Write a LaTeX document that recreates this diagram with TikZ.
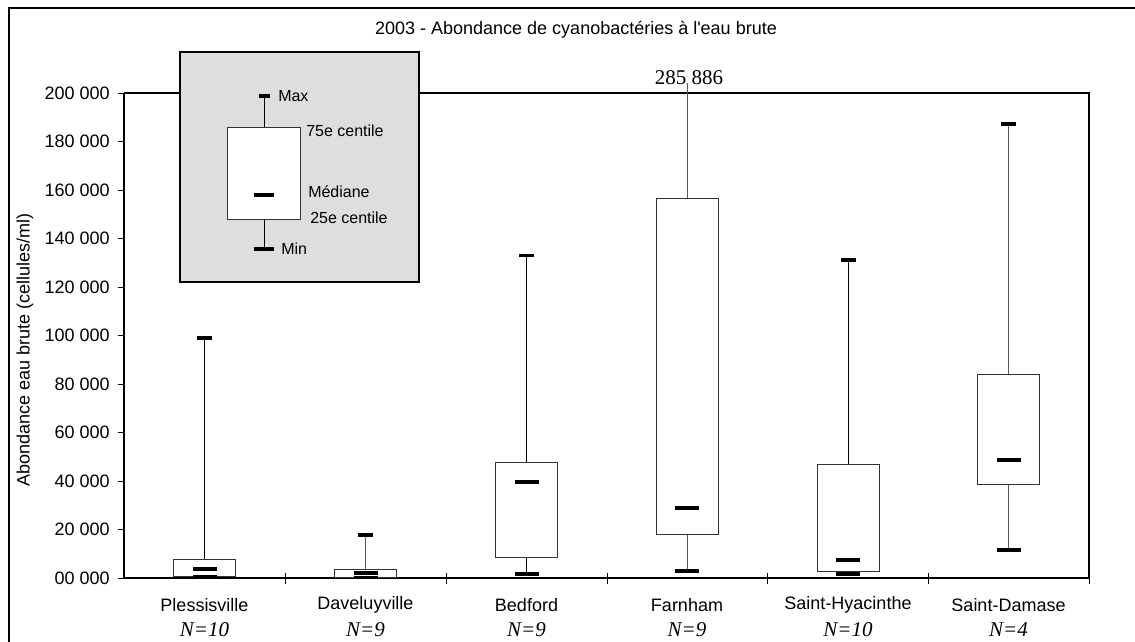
\documentclass[tikz,border=0pt]{standalone}
\usepackage{fontspec}
\setmainfont{Liberation Sans}
\newfontfamily\tnr{Liberation Serif}
\begin{document}
\begin{tikzpicture}[x=0.75pt,y=-0.75pt,
  frame/.style={draw=black,line width=1.5pt},
  axis/.style={draw=black,line width=1.4pt},
  plotedge/.style={draw=black,line width=1.1pt},
  tck/.style={draw=black,line width=0.6pt},
  boxs/.style={draw=black!80,line width=0.75pt},
  whisk/.style={line width=0.7pt},
  barmark/.style={draw=black,line width=2.6pt},
  lbl/.style={font=\fontsize{13.5}{16}\selectfont,inner sep=0pt},
  leglbl/.style={font=\fontsize{12}{14}\selectfont,inner sep=0pt,anchor=west},
  nlbl/.style={font=\tnr\itshape\fontsize{15.75}{18}\selectfont,inner sep=0pt}]
\useasboundingbox (0,0) rectangle (1135,642);
\begin{scope}
\clip (0,0) rectangle (1135,642);
\draw[frame] (8.5,8.5) rectangle (1150,660);
\end{scope}
% title
\node[lbl] (title) at (576,30) {2003 - Abondance de cyanobactéries à l\textquotesingle eau brute};
% plot frame
\draw[plotedge] (124,93) -- (1089,93) -- (1089,578);
\draw[axis] (124,93) -- (124,578) -- (1089,578);
% y ticks and labels
\foreach \i/\t in {0/00 000,1/20 000,2/40 000,3/60 000,4/80 000,5/100 000,6/120 000,7/140 000,8/160 000,9/180 000,10/200 000}{
  \draw[tck] (118,{578-48.5*\i}) -- (124,{578-48.5*\i});
  \node[lbl,anchor=east] (yl\i) at (110,{578-48.5*\i}) {\t};
}
\node[lbl,rotate=90] (ylabel) at (25,350) {Abondance eau brute (cellules/ml)};
% category ticks
\foreach \x in {285,446,607,767,928,1089}{
  \draw[tck] (\x,573) -- (\x,584);
}
% x labels
\foreach \cx/\nm/\n/\id in {204.5/Plessisville/10/a,365.5/Daveluyville/9/b,526.5/Bedford/9/c,687/Farnham/9/d,848/Saint-Hyacinthe/10/e,1008.5/Saint-Damase/4/f}{
  \node[lbl] (xl\id) at (\cx,605) {\nm};
  \node[nlbl] (nl\id) at (\cx,630) {N=\n};
}
% box plots
\foreach \cx/\mx/\qt/\md/\qb/\mn/\wc in {
  204.5/338/559/569/576/577/black,
  365.5/535/569/573/577/577.5/black!65,
  526.5/255.5/462/482/557/574/black,
  848/260/464/560/571/574/black,
  1008.5/124/374/460/484/550/black!65}{
  \draw[whisk,\wc] (\cx,\qt) -- (\cx,\mx);
  \draw[whisk,\wc] (\cx,\qb) -- (\cx,\mn);
  \draw[boxs] (\cx-31,\qt) rectangle (\cx+31,\qb);
  \draw[barmark] (\cx-7.5,\mx) -- (\cx+7.5,\mx);
  \draw[barmark] (\cx-12,\md) -- (\cx+12,\md);
  \draw[barmark] (\cx-12,\mn) -- (\cx+12,\mn);
}
% Farnham (max off scale)
\node[font=\tnr\fontsize{15.75}{18}\selectfont,inner sep=0pt] (farnmax) at (689,78) {285 886};
\draw[whisk,black!65] (687,198) -- (687,83);
\draw[whisk,black!65] (687,534) -- (687,571);
\draw[boxs] (656,198) rectangle (718,534);
\draw[barmark] (675,508) -- (699,508);
\draw[barmark] (675,571) -- (699,571);
% legend
\draw[draw=black,line width=1.5pt,fill=black!13] (180,52) rectangle (419,282);
\draw[whisk] (264,127) -- (264,96);
\draw[whisk] (264,219) -- (264,249);
\draw[boxs,fill=white] (227,127) rectangle (300,219);
\draw[barmark] (258.5,96) -- (269.5,96);
\draw[barmark] (254,195) -- (274,195);
\draw[barmark] (254,249) -- (274,249);
\node[leglbl] (lmax) at (278,96) {Max};
\node[leglbl] (lq3) at (306,131) {75e centile};
\node[leglbl] (lmed) at (308,192) {Médiane};
\node[leglbl] (lq1) at (310,218) {25e centile};
\node[leglbl] (lmin) at (281,249) {Min};
\end{tikzpicture}
\end{document}
